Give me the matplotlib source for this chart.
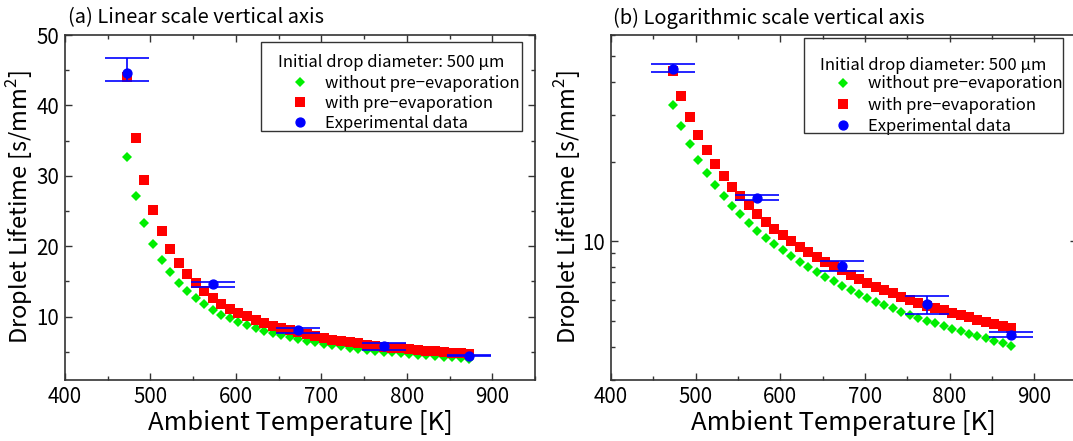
import matplotlib
matplotlib.use("Agg")
import matplotlib.pyplot as plt
from matplotlib.patches import Rectangle
from matplotlib.ticker import MultipleLocator, FixedLocator, NullFormatter, FixedFormatter

plt.rcParams['font.family'] = ['Noto Sans CJK JP', 'DejaVu Sans']
plt.rcParams['mathtext.fontset'] = 'custom'
plt.rcParams['mathtext.rm'] = 'Noto Sans CJK JP'

# ---------------- data ----------------
temperature = [473, 483, 493, 503, 513, 523, 533, 543, 553, 563, 573, 583, 593, 603,
               613, 623, 633, 643, 653, 663, 673, 683, 693, 703, 713, 723, 733, 743,
               753, 763, 773, 783, 793, 803, 813, 823, 833, 843, 853, 863, 873]
without_pre = [32.7, 27.2, 23.3, 20.3, 18.1, 16.3, 14.8, 13.6, 12.66, 11.74, 10.98, 10.3,
               9.8, 9.25, 8.77, 8.38, 7.97, 7.63, 7.33, 7.06, 6.79, 6.56, 6.34, 6.14,
               5.93, 5.76, 5.60, 5.43, 5.29, 5.15, 5.02, 4.91, 4.80, 4.68, 4.59, 4.48,
               4.39, 4.31, 4.22, 4.13, 4.04]
with_pre = [44.0, 35.4, 29.4, 25.2, 22.1, 19.6, 17.6, 16.05, 14.8, 13.7, 12.7, 11.85,
            11.14, 10.54, 10.03, 9.52, 9.12, 8.73, 8.38, 8.05, 7.77, 7.48, 7.22, 6.99,
            6.75, 6.56, 6.37, 6.19, 6.01, 5.87, 5.72, 5.59, 5.50, 5.38, 5.27, 5.17,
            5.06, 4.98, 4.89, 4.81, 4.72]
exp_temperature = [473, 573, 673, 773, 873]
exp_lifetime = [44.6, 14.6, 8.1, 5.8, 4.45]
exp_err_low = [1.2, 0.33, 0.4, 0.48, 0.09]
exp_err_high = [2.2, 0.37, 0.3, 0.43, 0.09]

legend_title = "Initial drop diameter: 500 \u03bcm"
label_without = "without pre\u2212evaporation"
label_with = "with pre\u2212evaporation"
label_exp = "Experimental data"
titles = ["(a) Linear scale vertical axis", "(b) Logarithmic scale vertical axis"]
xlabel = "Ambient Temperature [K]"
ylabel = "Droplet Lifetime [s/mm$^2$]"

# ---------------- figure ----------------
W, H = 1073, 441
fig = plt.figure(figsize=(W / 100, H / 100), dpi=100)

def px_axes(x0, y0, x1, y1):
    return fig.add_axes([x0 / W, 1 - y1 / H, (x1 - x0) / W, (y1 - y0) / H])

axA = px_axes(65, 35, 535, 380)
axB = px_axes(611, 35, 1076.5, 380)

green = '#00ee00'
red = '#ff0000'
blue = '#0000ff'
spine_c = '#333333'

# legend layout in pixels: frame (x0, y0, x1, y1), title y, entries anchor (x, y), row pitch
panels = [
    dict(ax=axA, title=titles[0], tx=68, ylx=-0.0628,
         frame=(261, 42, 522, 131), title_y=62.5, ent=(291.7, 74.5), pitch=0.2),
    dict(ax=axB, title=titles[1], tx=613, ylx=-0.060,
         frame=(804, 38, 1063, 133), title_y=65.5, ent=(835, 75.5), pitch=0.25),
]

for p in panels:
    ax = p['ax']
    l1, = ax.plot(temperature, without_pre, linestyle='none', marker='D', markersize=5.4,
                  color=green, markeredgewidth=0, label=label_without, zorder=3)
    l2, = ax.plot(temperature, with_pre, linestyle='none', marker='s', markersize=6.8,
                  color=red, markeredgewidth=0, label=label_with, zorder=4)
    eb = ax.errorbar(exp_temperature, exp_lifetime, yerr=[exp_err_low, exp_err_high],
                     linestyle='none', marker='o', markersize=6.4, color=blue,
                     markeredgecolor=blue, ecolor=blue, elinewidth=1.2, capsize=15.8,
                     capthick=1.2, label=label_exp, zorder=5)
    ax.set_xlim(400, 950)
    ax.xaxis.set_major_locator(MultipleLocator(100))
    ax.xaxis.set_minor_locator(MultipleLocator(50))
    ax.tick_params(which='both', direction='in', top=True, right=True,
                   colors=spine_c, labelcolor='black', labelsize=14.8, width=1.0)
    ax.tick_params(which='major', length=5, pad=4)
    ax.tick_params(which='minor', length=3)
    for s in ax.spines.values():
        s.set_color(spine_c)
        s.set_linewidth(1.2)
    ax.set_xlabel(xlabel, fontsize=18.5)
    ax.set_ylabel(ylabel, fontsize=17)
    ax.xaxis.set_label_coords(0.5, -0.088)
    ax.yaxis.set_label_coords(p['ylx'], 0.5)
    fig.text(p['tx'] / W, 1 - 18 / H, p['title'], fontsize=14.5, ha='left', va='center')

    # legend: frame + title + entries
    fx0, fy0, fx1, fy1 = p['frame']
    fig.add_artist(Rectangle((fx0 / W, 1 - fy1 / H), (fx1 - fx0) / W, (fy1 - fy0) / H,
                             transform=fig.transFigure, facecolor='none',
                             edgecolor='#333333', linewidth=1.0, zorder=5))
    fig.text((fx0 + fx1) / 2 / W, 1 - p['title_y'] / H, legend_title, fontsize=12,
             ha='center', va='center')
    ex, ey = p['ent']
    ax.legend(handles=[l1, l2, eb[0]], labels=[label_without, label_with, label_exp],
              loc='upper left', bbox_to_anchor=(ex / W, 1 - ey / H),
              bbox_transform=fig.transFigure, frameon=False, fontsize=12,
              handletextpad=1.0, borderpad=0.0, labelspacing=p['pitch'],
              handlelength=1.0, borderaxespad=0.0)

axA.set_ylim(1, 50)
axA.yaxis.set_major_locator(MultipleLocator(10))
axA.yaxis.set_minor_locator(MultipleLocator(5))

axB.set_yscale('log')
axB.set_ylim(3, 60)
axB.yaxis.set_major_locator(FixedLocator([10]))
axB.yaxis.set_major_formatter(FixedFormatter(['10']))
axB.yaxis.set_minor_locator(FixedLocator([3, 4, 5, 6, 7, 8, 9, 20, 30, 40, 50, 60]))
axB.yaxis.set_minor_formatter(NullFormatter())

fig.savefig("out.png", dpi=100)
